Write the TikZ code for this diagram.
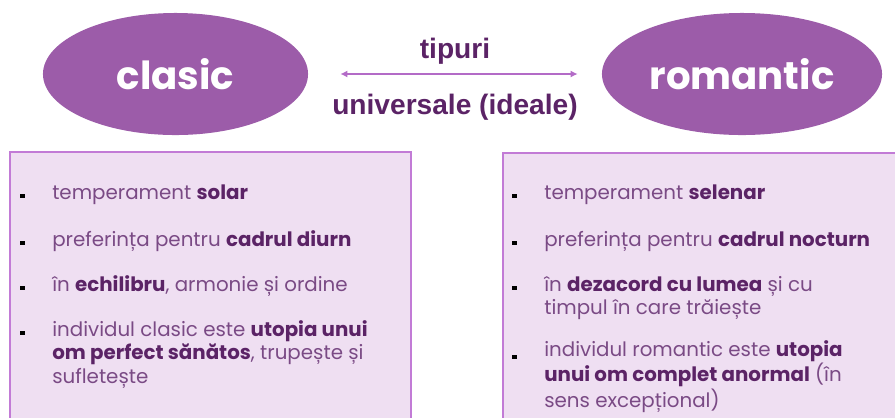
\documentclass[tikz,border=0pt]{standalone}
\usepackage{fontspec}
\setmainfont{Poppins}
\newfontfamily\arialfont{Liberation Sans}
\usetikzlibrary{shapes.geometric, positioning, arrows.meta}
\definecolor{ovalmov}{HTML}{9C5CA9}
\definecolor{sageata}{HTML}{B36BC7}
\definecolor{titlu}{HTML}{5B2366}
\definecolor{chenar}{HTML}{C27BD6}
\definecolor{fundal}{HTML}{EFDFF2}
\definecolor{textmov}{HTML}{7A4A85}
\newcommand{\evid}[1]{{\bfseries\color{titlu}#1}}
\tikzset{
	tip/.style={
		ellipse,
		fill=ovalmov,
		minimum height=3.05cm,
		inner sep=0pt,
		text=white,
		font=\fontsize{27.5}{30}\selectfont\bfseries,
	},
	caseta/.style={
		rectangle,
		draw=chenar, line width=1.5pt,
		fill=fundal,
	},
	rand/.style={
		anchor=base west,
		align=left,
		inner sep=0pt,
		text=textmov,
		font=\fontsize{14.1}{16.7}\selectfont,
	},
	punct/.style={
		rectangle,
		fill=black,
		minimum size=3pt,
		inner sep=0pt,
	},
	eticheta/.style={
		anchor=base,
		inner sep=0pt,
		text=titlu,
		font=\arialfont\fontsize{20}{22}\selectfont\bfseries,
	},
}

\begin{document}
\begin{tikzpicture}[x=0.025cm, y=-0.025cm]
        \clip (0,0) rectangle (895,417);
        \node[tip, minimum width=6.625cm] (clasic) at (175.5,74) {clasic};
        \node[tip, minimum width=7cm] (romantic) at (742,74) {romantic};
        \draw[sageata, line width=1.4pt, {Latex[length=5pt,width=5pt]}-{Latex[length=5pt,width=5pt]}, shorten <=0.8cm, shorten >=0.6cm] (clasic.east) -- (romantic.west)
            node[eticheta, midway, yshift=11pt] (tipuri) {tipuri}
            node[eticheta, midway, yshift=-28.5pt] (universale) {universale (ideale)};

        % casetele de jos
        \node[caseta, minimum width=10.025cm, minimum height=7cm, anchor=north west] (stanga) at (9,151) {};
        \node[caseta, minimum width=10.5cm, minimum height=7cm, anchor=north west] (dreapta) at (502,152) {};

        % base = ultimul rand al textului
        \node[rand] (c1) at (52,199) {temperament \evid{solar}};
        \node[rand] (c2) at (52,246) {preferința pentru \evid{cadrul diurn}};
        \node[rand] (c3) at (52,291) {în \evid{echilibru}, armonie și ordine};
        \node[rand] (c4) at (52,383) {individul clasic este \evid{utopia unui}\\\evid{om perfect sănătos}, trupește și\\sufletește};

        \node[rand] (r1) at (544,199) {temperament \evid{selenar}};
        \node[rand] (r2) at (544,246) {preferința pentru \evid{cadrul nocturn}};
        \node[rand] (r3) at (544,314.5) {în \evid{dezacord cu lumea} și cu\\timpul în care trăiește};
        \node[rand] (r4) at (544,407) {individul romantic este \evid{utopia}\\\evid{unui om complet anormal} (în\\sens excepțional)};

        \foreach \n/\k in {c1/0,c2/0,c3/0,c4/2,r1/0,r2/0,r3/1,r4/2}
            \node[punct] at ([xshift=-21pt, yshift=2pt+\k*16.7pt]\n.base west) {};
\end{tikzpicture}
\end{document}
